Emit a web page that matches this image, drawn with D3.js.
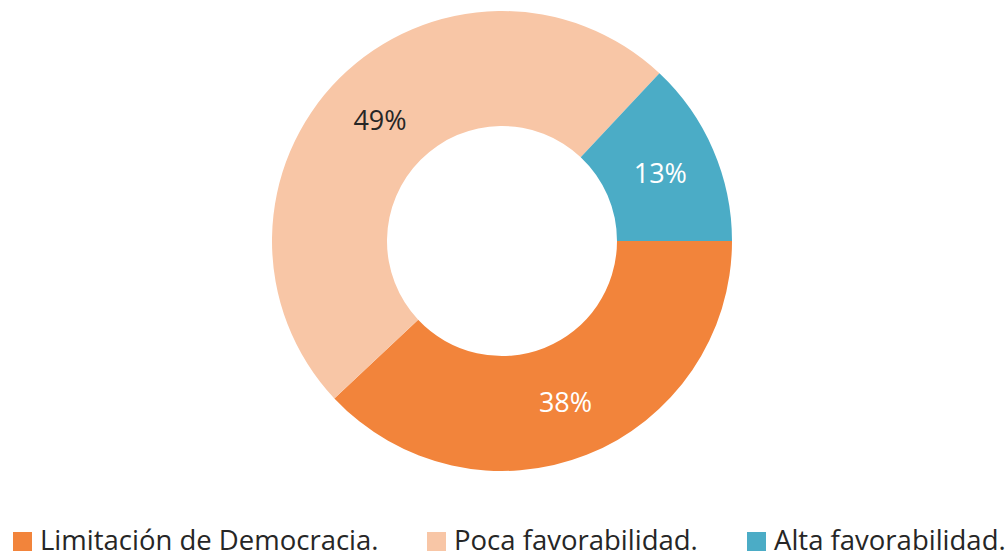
<!DOCTYPE html>
<html>
<head>
<meta charset="utf-8">
<script src="https://cdn.jsdelivr.net/npm/d3@7"></script>
<style>
  html, body { margin: 0; padding: 0; background: #fff; }
  svg { display: block; }
</style>
</head>
<body>
<svg id="chart" width="1008" height="557"></svg>
<script>
// Survey results: perception categories and their shares (%)
const categories = ["Limitación de Democracia.", "Poca favorabilidad.", "Alta favorabilidad."];
const values = [38, 49, 13];
const colors = ["#F2843B", "#F8C6A6", "#4BACC6"];
const labelColors = ["#ffffff", "#262626", "#ffffff"];

const width = 1008, height = 557;
const cx = 502, cy = 241;
const outerR = 230, innerR = 115;
const font = "'Open Sans', 'Noto Sans', sans-serif";

const svg = d3.select("#chart");

const data = categories.map((c, i) => ({ name: c, value: values[i], color: colors[i], label: labelColors[i] }));

// Slices start at 3 o'clock and run clockwise
const pie = d3.pie()
  .sort(null)
  .value(d => d.value)
  .startAngle(Math.PI / 2)
  .endAngle(Math.PI / 2 + 2 * Math.PI);

const arc = d3.arc().innerRadius(innerR).outerRadius(outerR);

const g = svg.append("g").attr("transform", `translate(${cx},${cy})`);

const arcs = pie(data);

g.selectAll("path.slice")
  .data(arcs)
  .join("path")
  .attr("class", "slice")
  .attr("d", arc)
  .attr("fill", d => d.data.color);

g.selectAll("text.pct")
  .data(arcs)
  .join("text")
  .attr("class", "pct")
  .attr("transform", d => `translate(${arc.centroid(d)})`)
  .attr("text-anchor", "middle")
  .attr("dominant-baseline", "central")
  .attr("font-family", font)
  .attr("font-size", 27)
  .attr("fill", d => d.data.label)
  .text(d => d.data.value + "%");

// Legend along the bottom edge
const legendX = [13, 427, 747];
const legend = svg.append("g");
const items = legend.selectAll("g.item")
  .data(data)
  .join("g")
  .attr("class", "item")
  .attr("transform", (d, i) => `translate(${legendX[i]},0)`);

items.append("rect")
  .attr("x", 0)
  .attr("y", 532)
  .attr("width", 19)
  .attr("height", 19)
  .attr("fill", d => d.color);

items.append("text")
  .attr("x", 27)
  .attr("y", 550)
  .attr("font-family", font)
  .attr("font-size", 27.5)
  .attr("fill", "#262626")
  .text(d => d.name);
</script>
</body>
</html>
